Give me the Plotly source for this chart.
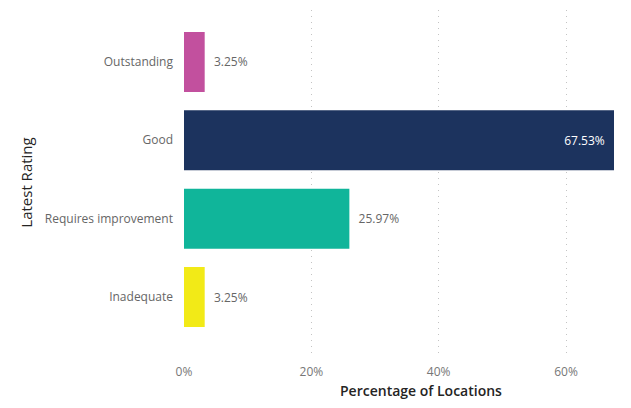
import plotly.graph_objects as go

categories = ["Outstanding", "Good", "Requires improvement", "Inadequate"]
values = [3.25, 67.53, 25.97, 3.25]
labels = ["3.25%", "67.53%", "25.97%", "3.25%"]
colors = ["#C2509E", "#1C335E", "#10B59A", "#F2EA17"]
text_positions = ["outside", "inside", "outside", "outside"]
text_colors = ["#666666", "#FFFFFF", "#666666", "#666666"]
tick_vals = [0, 20, 40, 60]
tick_text = ["0%", "20%", "40%", "60%"]

pad = "\u00a0\u00a0"
display_text = [
    (pad + t) if pos == "outside" else (t + pad)
    for t, pos in zip(labels, text_positions)
]

fig = go.Figure(go.Bar(
    x=values,
    y=categories,
    orientation="h",
    marker=dict(color=colors, line=dict(width=0)),
    width=0.765,
    text=display_text,
    textposition=text_positions,
    insidetextanchor="end",
    textfont=dict(color=text_colors, size=12, family="Open Sans"),
    cliponaxis=False,
    hoverinfo="skip",
))

fig.update_layout(
    width=631,
    height=408,
    margin=dict(l=184, r=17, t=10, b=53),
    paper_bgcolor="white",
    plot_bgcolor="white",
    showlegend=False,
    font=dict(family="Open Sans", color="#666666", size=12),
    annotations=[dict(
        text="Percentage of Locations",
        xref="paper", yref="paper",
        x=0.551, y=-0.104,
        xanchor="center", yanchor="middle",
        showarrow=False,
        font=dict(size=14, color="#252423", family="Open Sans", weight=600),
    )],
)

fig.update_xaxes(
    range=[0, 67.53],
    tickvals=tick_vals,
    ticktext=tick_text,
    showgrid=True,
    gridcolor="#C4C4C4",
    griddash="1px,5px",
    gridwidth=1,
    zeroline=False,
    showline=False,
    ticks="",
    ticklabelstandoff=8,
    tickfont=dict(size=12, color="#777777"),
)

fig.update_yaxes(
    categoryorder="array",
    categoryarray=categories,
    range=[3.739, -0.662],
    showgrid=False,
    zeroline=False,
    showline=False,
    ticks="",
    ticklabelstandoff=10,
    tickfont=dict(size=12, color="#666666"),
    title=dict(text="Latest Rating", font=dict(size=15, color="#252423", family="Open Sans"), standoff=8),
)

fig.write_html("out.html")
